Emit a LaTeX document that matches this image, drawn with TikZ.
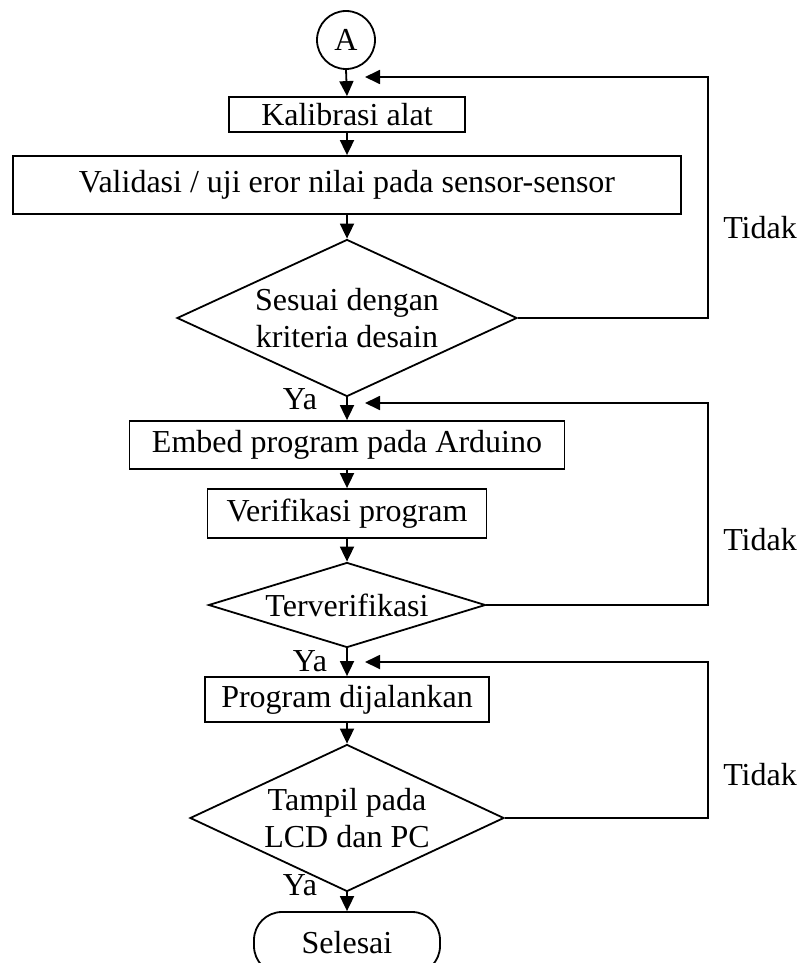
\documentclass[tikz,border=0pt]{standalone}
\usepackage{fontspec}
\setmainfont{Liberation Serif}
\usetikzlibrary{shapes.geometric,arrows.meta}
\begin{document}
\begin{tikzpicture}[x=1pt,y=-1pt,line width=1.8pt,
  font=\fontsize{32}{37}\selectfont,
  procbox/.style={draw,rectangle,inner sep=0pt},
  decide/.style={draw,diamond,inner sep=0pt,align=center},
  conn/.style={draw,circle,inner sep=0pt,minimum size=58pt},
  term/.style={draw,rectangle,rounded corners=28pt,inner sep=0pt,minimum width=186pt,minimum height=62pt},
  lbl/.style={inner sep=0pt},
  arr/.style={-{Triangle[length=15pt,width=14pt]}}]
\useasboundingbox (0,0) rectangle (803,963);
% nodes
\node[conn] (A) at (346,40) {A};
\node[procbox,minimum width=236pt,minimum height=35pt] (kal) at (347,114.5) {Kalibrasi alat};
\node[procbox,minimum width=668pt,minimum height=58pt] (val) at (347,185) {Validasi / uji eror nilai pada sensor-sensor};
\node[decide,aspect=2.166,minimum width=340pt,minimum height=157pt] (d1) at (347,318) {Sesuai dengan\\kriteria desain};
\node[procbox,minimum width=435pt,minimum height=48pt] (emb) at (347,445) {Embed program pada Arduino};
\node[procbox,minimum width=279pt,minimum height=49pt] (ver) at (347,513.5) {Verifikasi program};
\node[decide,aspect=3.26,minimum width=277pt,minimum height=85pt] (d2) at (347,605) {Terverifikasi};
\node[procbox,minimum width=284pt,minimum height=45pt] (prog) at (347,699.5) {Program dijalankan};
\node[decide,aspect=2.136,minimum width=314pt,minimum height=147pt] (d3) at (347,818) {Tampil pada\\LCD dan PC};
\node[term] (sel) at (347,943) {Selesai};
% labels
\node[lbl] (ya1) at (300,399) {Ya};
\node[lbl] (ya2) at (310,661) {Ya};
\node[lbl] (ya3) at (300,885) {Ya};
\node[lbl] (t1) at (760,228) {Tidak};
\node[lbl] (t2) at (760,540) {Tidak};
\node[lbl] (t3) at (760,775) {Tidak};
% feedback coordinates
\coordinate (c1) at (708,77);
\coordinate (e1) at (365,77);
\coordinate (c2) at (708,403);
\coordinate (e2) at (365,403);
\coordinate (c3) at (708,662);
\coordinate (e3) at (365,662);
% main flow
\draw[arr] (A.south) -- (kal.north);
\draw[arr] (kal.south) -- (val.north);
\draw[arr] (val.south) -- (d1.north);
\draw[arr] (d1.south) -- (emb.north);
\draw[arr] (emb.south) -- (ver.north);
\draw[arr] (ver.south) -- (d2.north);
\draw[arr] (d2.south) -- (prog.north);
\draw[arr] (prog.south) -- (d3.north);
\draw[arr] (d3.south) -- (sel.north);
% feedback loops
\draw[arr] (d1.east) -| (c1) -- (e1);
\draw[arr] (d2.east) -| (c2) -- (e2);
\draw[arr] (d3.east) -| (c3) -- (e3);
\end{tikzpicture}
\end{document}
